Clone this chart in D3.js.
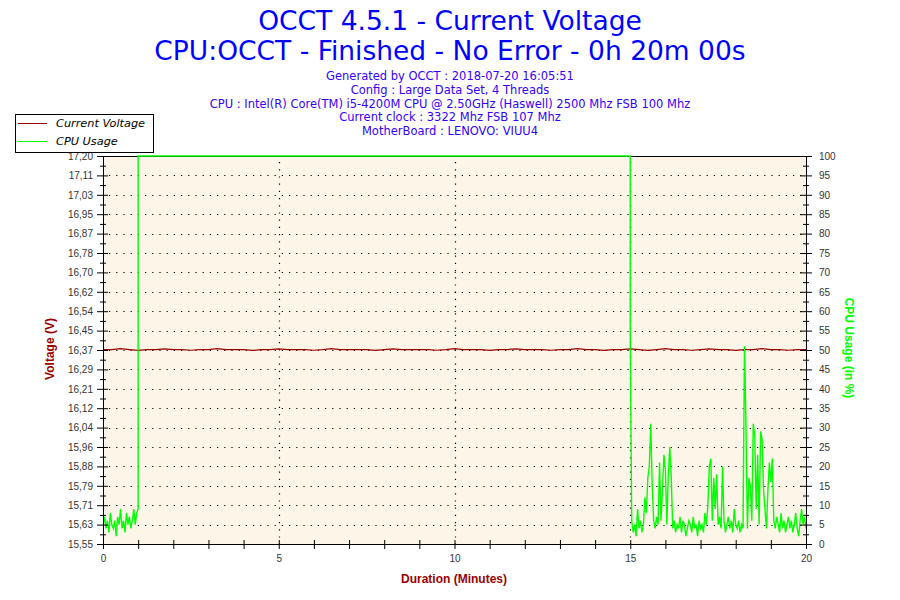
<!DOCTYPE html>
<html>
<head>
<meta charset="utf-8">
<title>OCCT Current Voltage</title>
<style>
  body { margin: 0; background: #fff; }
  .tick text { font-family: "Liberation Sans", Arial, sans-serif; font-size: 10px; fill: #333; }
</style>
</head>
<body>
<div id="chart"></div>
<script src="https://cdn.jsdelivr.net/npm/d3@7"></script>
<script>
// ---- data ----
var titleLines = ["OCCT 4.5.1 - Current Voltage", "CPU:OCCT - Finished - No Error - 0h 20m 00s"];
var infoLines = [
  "Generated by OCCT : 2018-07-20 16:05:51",
  "Config : Large Data Set, 4 Threads",
  "CPU : Intel(R) Core(TM) i5-4200M CPU @ 2.50GHz (Haswell) 2500 Mhz FSB 100 Mhz",
  "Current clock : 3322 Mhz FSB 107 Mhz",
  "MotherBoard : LENOVO: VIUU4"
];
var seriesNames = ["Current Voltage", "CPU Usage"];

var voltDomain = [15.55, 17.20];
var minuteTicks = [0, 5, 10, 15, 20];
var cpuTicks = [0, 5, 10, 15, 20, 25, 30, 35, 40, 45, 50, 55, 60, 65, 70, 75, 80, 85, 90, 95, 100];

// voltage, one sample every 15 s (0 .. 20 min)
var voltSamples = [
  16.377,16.377,16.381,16.377,16.373,16.377,16.377,16.380,16.377,16.377,
  16.374,16.377,16.377,16.381,16.377,16.377,16.377,16.373,16.377,16.377,
  16.380,16.377,16.377,16.377,16.374,16.377,16.381,16.377,16.377,16.377,
  16.377,16.373,16.377,16.380,16.377,16.377,16.377,16.377,16.374,16.377,
  16.381,16.377,16.377,16.377,16.373,16.377,16.377,16.380,16.377,16.377,
  16.377,16.374,16.377,16.377,16.381,16.377,16.377,16.373,16.377,16.377,
  16.380,16.377,16.373,16.377,16.381,16.377,16.377,16.374,16.377,16.380,
  16.377,16.377,16.373,16.377,16.377,16.381,16.377,16.377,16.374,16.377,16.377
];

// cpu usage, idle before the test, one sample every 2.5 s (0 .. 1 min)
var cpuStart = [5, 7, 4, 6, 3, 8, 5, 4, 6, 2, 7, 5, 9, 4, 6, 3, 8, 5, 7, 4, 6, 9, 5, 8, 9];
// cpu usage during the test
var cpuLoadMinutes = [1, 15];
var cpuLoad = [100, 100];
// cpu usage after the test, one sample every 2.5 s (15 .. 20 min)
var cpuEnd = [
  54, 6, 3, 5, 2, 9, 4, 6, 3, 5,
  12, 8, 17, 20, 31, 15, 6, 4, 7, 5,
  21, 6, 14, 23, 19, 5, 18, 25, 17, 4,
  6, 3, 5, 4, 7, 3, 6, 5, 2, 4,
  6, 5, 3, 7, 4, 5, 2, 6, 4, 5,
  3, 8, 5, 10, 20, 22, 6, 17, 9, 18,
  5, 7, 4, 20, 6, 3, 5, 7, 4, 6,
  3, 9, 5, 4, 6, 3, 5, 4, 51, 31,
  4, 17, 15, 6, 31, 28, 9, 23, 5, 29,
  27, 14, 9, 4, 14, 21, 16, 22, 6, 4,
  7, 5, 3, 8, 4, 6, 3, 5, 7, 4,
  6, 3, 5, 8, 4, 2, 6, 9, 5, 7, 4
];

// ---- layout ----
var width = 900, height = 600;
var plot = { left: 103, right: 806, top: 156, bottom: 544 };
var voltColor = "#990000", cpuColor = "#00ff00";

var svg = d3.select("#chart").append("svg")
  .attr("width", width).attr("height", height);

var x = d3.scaleLinear().domain([0, 20]).range([plot.left, plot.right]);
var yV = d3.scaleLinear().domain(voltDomain).range([plot.bottom, plot.top]);
var yC = d3.scaleLinear().domain([0, 100]).range([plot.bottom, plot.top]);

// titles
svg.selectAll("text.title").data(titleLines).enter().append("text")
  .attr("class", "title")
  .attr("x", 450).attr("y", function(d, i) { return 30 + i * 30; })
  .attr("text-anchor", "middle")
  .attr("font-family", "Verdana, 'DejaVu Sans', sans-serif")
  .attr("font-size", "26.5px")
  .attr("fill", "#0000ff")
  .text(function(d) { return d; });

svg.selectAll("text.info").data(infoLines).enter().append("text")
  .attr("class", "info")
  .attr("x", 450).attr("y", function(d, i) { return 80 + i * 13.8; })
  .attr("text-anchor", "middle")
  .attr("font-family", "Verdana, 'DejaVu Sans', sans-serif")
  .attr("font-size", "11.5px")
  .attr("fill", "#3300ff")
  .text(function(d) { return d; });

// plot background
svg.append("rect")
  .attr("x", plot.left).attr("y", plot.top)
  .attr("width", plot.right - plot.left).attr("height", plot.bottom - plot.top)
  .attr("fill", "#fdf6e8");

// dotted grid
var gridG = svg.append("g").attr("stroke", "#000").attr("stroke-width", 1.2)
  .attr("stroke-dasharray", "1.2,6");
gridG.selectAll("line.h").data(cpuTicks.slice(1, -1)).enter().append("line")
  .attr("x1", plot.left + 6).attr("x2", plot.right)
  .attr("y1", function(d) { return Math.round(yC(d)) + 0.5; })
  .attr("y2", function(d) { return Math.round(yC(d)) + 0.5; });
gridG.selectAll("line.v").data(minuteTicks.slice(1, -1)).enter().append("line")
  .attr("y1", plot.top + 6).attr("y2", plot.bottom)
  .attr("x1", function(d) { return Math.round(x(d)) + 0.5; })
  .attr("x2", function(d) { return Math.round(x(d)) + 0.5; });

// top border
svg.append("line")
  .attr("x1", plot.left).attr("x2", plot.right)
  .attr("y1", plot.top + 0.5).attr("y2", plot.top + 0.5)
  .attr("stroke", "#000");

// series
var clip = svg.append("clipPath").attr("id", "clip").append("rect")
  .attr("x", plot.left).attr("y", plot.top - 1)
  .attr("width", plot.right - plot.left).attr("height", plot.bottom - plot.top + 1);

var voltPts = voltSamples.map(function(v, i) { return [i / 4, v]; });
var cpuPts = cpuStart.map(function(v, i) { return [i / 24, v]; })
  .concat(cpuLoad.map(function(v, i) { return [cpuLoadMinutes[i], v]; }))
  .concat(cpuEnd.map(function(v, i) { return [15 + i / 24, v]; }));

svg.append("path")
  .datum(voltPts)
  .attr("clip-path", "url(#clip)")
  .attr("fill", "none").attr("stroke", voltColor).attr("stroke-width", 1.2)
  .attr("d", d3.line().x(function(d) { return x(d[0]); }).y(function(d) { return yV(d[1]); }));

svg.append("path")
  .datum(cpuPts)
  .attr("clip-path", "url(#clip)")
  .attr("fill", "none").attr("stroke", cpuColor).attr("stroke-width", 1.4)
  .attr("d", d3.line().x(function(d) { return x(d[0]); }).y(function(d) { return yC(d[1]); }));

// axes
var voltTicks = d3.range(21).map(function(k) { return voltDomain[0] + k * (voltDomain[1] - voltDomain[0]) / 20; });
var voltMinor = d3.range(20).map(function(k) { return voltDomain[0] + (k + 0.5) * (voltDomain[1] - voltDomain[0]) / 20; });
function truncComma(v) { return (Math.floor(v * 100 + 1e-6) / 100).toFixed(2).replace(".", ","); }

function crossTicks(g, inner) {
  g.select(".domain").attr("stroke", "#000");
  g.selectAll(".tick line").attr("stroke", "#000");
  g.selectAll(".tick line").each(function() {
    var l = d3.select(this);
    if (l.attr("x2") !== null && +l.attr("x2") !== 0) l.attr("x1", inner);
    if (l.attr("y2") !== null && +l.attr("y2") !== 0) l.attr("y1", inner);
  });
}

var gL = svg.append("g").attr("transform", "translate(" + plot.left + ",0)")
  .call(d3.axisLeft(yV).tickValues(voltTicks).tickFormat(truncComma).tickSize(6).tickPadding(4));
crossTicks(gL, 5);
var gLm = svg.append("g").attr("transform", "translate(" + plot.left + ",0)")
  .call(d3.axisLeft(yV).tickValues(voltMinor).tickFormat("").tickSize(3));
gLm.select(".domain").remove();
crossTicks(gLm, 3);

var gR = svg.append("g").attr("transform", "translate(" + plot.right + ",0)")
  .call(d3.axisRight(yC).tickValues(cpuTicks).tickFormat(d3.format("d")).tickSize(6).tickPadding(7));
crossTicks(gR, -6);
var gRm = svg.append("g").attr("transform", "translate(" + plot.right + ",0)")
  .call(d3.axisRight(yC).tickValues(cpuTicks.slice(1).map(function(d) { return d - 2.5; })).tickFormat("").tickSize(3));
gRm.select(".domain").remove();
crossTicks(gRm, -3);

var gB = svg.append("g").attr("transform", "translate(0," + plot.bottom + ")")
  .call(d3.axisBottom(x).tickValues(minuteTicks).tickFormat(d3.format("d")).tickSize(5).tickPadding(6));
crossTicks(gB, -4);
var gBm = svg.append("g").attr("transform", "translate(0," + plot.bottom + ")")
  .call(d3.axisBottom(x).tickValues(d3.range(1, 20).filter(function(d) { return d % 5; })).tickFormat("").tickSize(5));
gBm.select(".domain").remove();
crossTicks(gBm, -4);

// axis titles
svg.append("text")
  .attr("transform", "translate(54,349) rotate(-90)")
  .attr("text-anchor", "middle")
  .attr("font-family", "'Liberation Sans', Arial, sans-serif").attr("font-weight", "bold")
  .attr("font-size", "12px").attr("fill", voltColor)
  .text("Voltage (V)");
svg.append("text")
  .attr("transform", "translate(845,348) rotate(90)")
  .attr("text-anchor", "middle")
  .attr("font-family", "'Liberation Sans', Arial, sans-serif").attr("font-weight", "bold")
  .attr("font-size", "12px").attr("fill", cpuColor)
  .text("CPU Usage (in %)");
svg.append("text")
  .attr("x", 454).attr("y", 583)
  .attr("text-anchor", "middle")
  .attr("font-family", "'Liberation Sans', Arial, sans-serif").attr("font-weight", "bold")
  .attr("font-size", "12px").attr("fill", voltColor)
  .text("Duration (Minutes)");

// legend (drawn last, it covers the top voltage label as in the original)
var leg = svg.append("g");
leg.append("rect")
  .attr("x", 15.5).attr("y", 114.5).attr("width", 138).attr("height", 38)
  .attr("fill", "#fff").attr("stroke", "#000");
var legColors = [voltColor, cpuColor];
seriesNames.forEach(function(name, i) {
  var yy = 123 + i * 18;
  leg.append("line")
    .attr("x1", 18).attr("x2", 47).attr("y1", yy + 0.5).attr("y2", yy + 0.5)
    .attr("stroke", legColors[i]);
  leg.append("text")
    .attr("x", 56).attr("y", yy + 4)
    .attr("font-family", "Verdana, 'DejaVu Sans', sans-serif").attr("font-style", "italic")
    .attr("font-size", "11.3px").attr("fill", "#000")
    .text(name);
});
</script>
</body>
</html>
